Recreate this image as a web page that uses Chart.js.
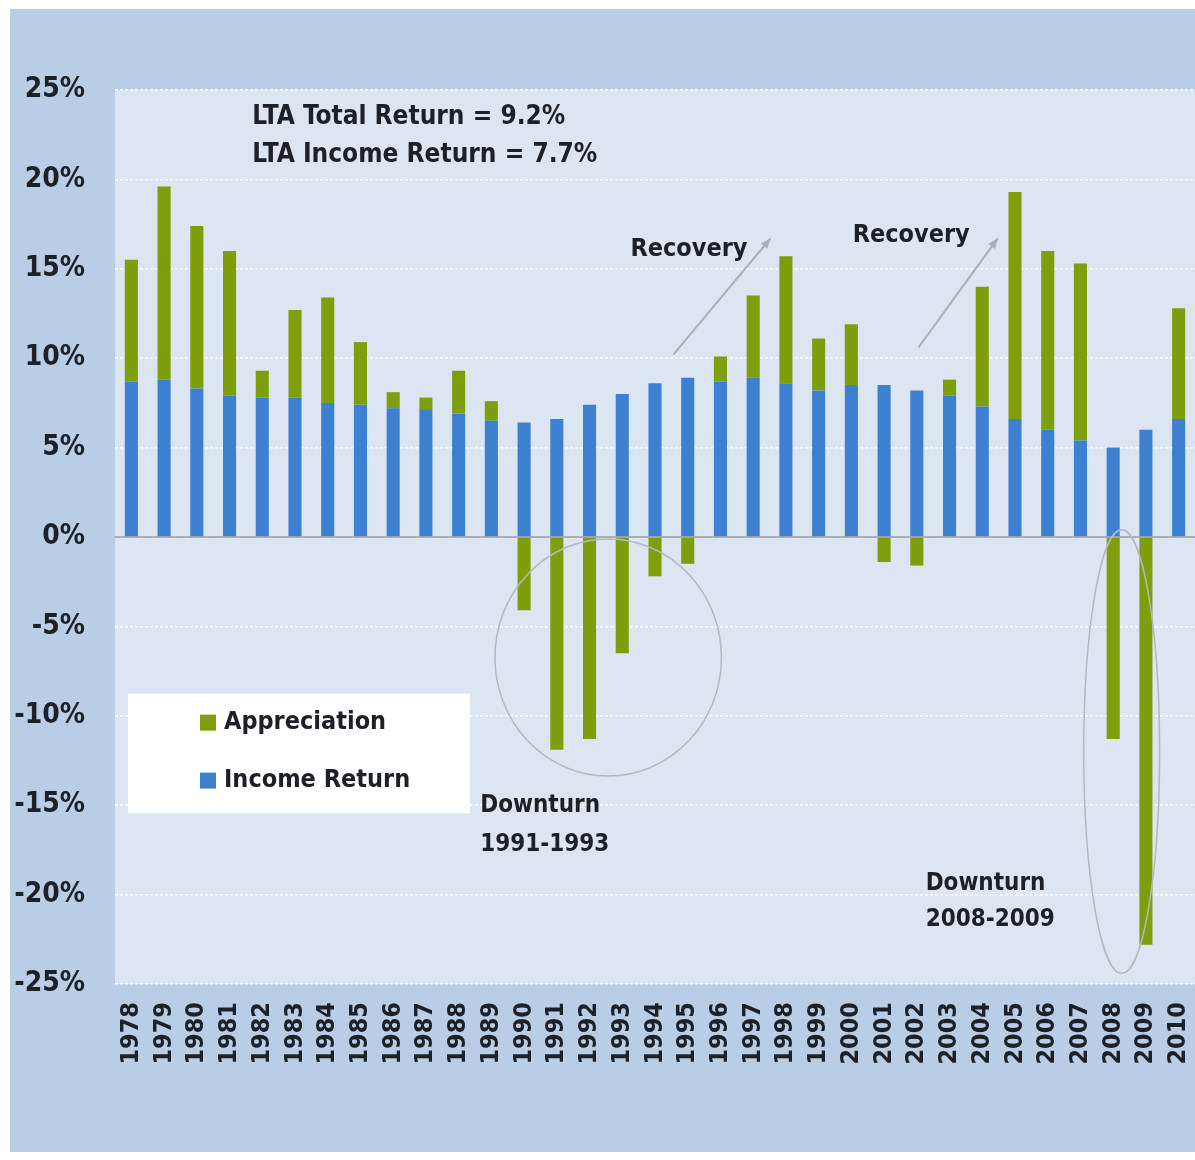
<!DOCTYPE html>
<html>
<head>
<meta charset="utf-8">
<script src="https://cdn.jsdelivr.net/npm/chart.js@4.4.0/dist/chart.umd.min.js"></script>
<style>
  html, body { margin: 0; padding: 0; background: #fff; }
  #wrap { width: 1195px; height: 1160px; position: relative; }
</style>
</head>
<body>
<div id="wrap"><canvas id="returnsChart" width="1195" height="1160"></canvas></div>
<script>
// years on the x axis
const years = ['1978', '1979', '1980', '1981', '1982', '1983', '1984', '1985', '1986', '1987', '1988',
  '1989', '1990', '1991', '1992', '1993', '1994', '1995', '1996', '1997', '1998', '1999', '2000',
  '2001', '2002', '2003', '2004', '2005', '2006', '2007', '2008', '2009', '2010'];

// income return (%), blue part
const incomeReturn = [8.7, 8.8, 8.3, 7.9, 7.8, 7.8, 7.5, 7.4, 7.2, 7.1, 6.9,
  6.5, 6.4, 6.6, 7.4, 8.0, 8.6, 8.9, 8.7, 8.9, 8.6, 8.2, 8.5,
  8.5, 8.2, 7.9, 7.3, 6.6, 6.0, 5.4, 5.0, 6.0, 6.6];

// appreciation (%), green part
const appreciation = [6.8, 10.8, 9.1, 8.1, 1.5, 4.9, 5.9, 3.5, 0.9, 0.7, 2.4,
  1.1, -4.1, -11.9, -11.3, -6.5, -2.2, -1.5, 1.4, 4.6, 7.1, 2.9, 3.4,
  -1.4, -1.6, 0.9, 6.7, 12.7, 10.0, 9.9, -11.3, -22.8, 6.2];

// y axis ticks
const yTicks = [25, 20, 15, 10, 5, 0, -5, -10, -15, -20, -25];

const GREEN = '#7e9e0c';
const BLUE = '#3e80d0';
const FONT = '"DejaVu Sans Condensed", "DejaVu Sans", sans-serif';
const TEXT = '#1d2027';
const LINE_GREY = '#a9aeb7';

// background: white edge, blue frame, lighter plot area
const backgroundPlugin = {
  id: 'backgrounds',
  beforeDraw(chart) {
    const { ctx, chartArea: a } = chart;
    ctx.save();
    ctx.fillStyle = '#ffffff';
    ctx.fillRect(0, 0, chart.width, chart.height);
    ctx.fillStyle = '#bacde6';
    ctx.fillRect(10, 9, chart.width - 10, chart.height - 17);
    ctx.fillStyle = '#dce6f2';
    ctx.fillRect(a.left, a.top, a.right - a.left, a.bottom - a.top);
    ctx.restore();
  },
  beforeDatasetsDraw(chart) {
    // solid zero line
    const { ctx, chartArea: a } = chart;
    const y0 = chart.scales.y.getPixelForValue(0);
    ctx.save();
    ctx.strokeStyle = LINE_GREY;
    ctx.lineWidth = 2;
    ctx.beginPath();
    ctx.moveTo(a.left, y0);
    ctx.lineTo(a.right, y0);
    ctx.stroke();
    ctx.restore();
  }
};

// text, arrows, circles and the white legend box
const annotationPlugin = {
  id: 'notes',
  afterDatasetsDraw(chart) {
    const { ctx } = chart;
    const xs = chart.scales.x, ys = chart.scales.y;
    const px = i => xs.getPixelForValue(i);
    const py = v => ys.getPixelForValue(v);

    ctx.save();
    ctx.fillStyle = TEXT;
    ctx.textAlign = 'left';
    ctx.textBaseline = 'middle';
    ctx.font = 'bold 26px ' + FONT;
    ctx.fillText('LTA Total Return = 9.2%', px(3.69), py(23.5));
    ctx.fillText('LTA Income Return = 7.7%', px(3.69), py(21.35));
    ctx.font = 'bold 25px ' + FONT;
    ctx.fillText('Recovery', px(15.25), py(16.1));
    ctx.fillText('Recovery', px(22.04), py(16.85));
    ctx.font = 'bold 24px ' + FONT;
    ctx.fillText('Downturn', px(10.66), py(-15.05));
    ctx.fillText('1991-1993', px(10.66), py(-17.2));
    ctx.fillText('Downturn', px(24.27), py(-19.4));
    ctx.fillText('2008-2009', px(24.27), py(-21.4));

    // arrows
    function arrow(x1, y1, x2, y2) {
      const ang = Math.atan2(y2 - y1, x2 - x1);
      ctx.strokeStyle = LINE_GREY;
      ctx.fillStyle = LINE_GREY;
      ctx.lineWidth = 2;
      ctx.beginPath();
      ctx.moveTo(x1, y1);
      ctx.lineTo(x2, y2);
      ctx.stroke();
      ctx.beginPath();
      ctx.moveTo(x2, y2);
      ctx.lineTo(x2 - 11 * Math.cos(ang - 0.4), y2 - 11 * Math.sin(ang - 0.4));
      ctx.lineTo(x2 - 11 * Math.cos(ang + 0.4), y2 - 11 * Math.sin(ang + 0.4));
      ctx.closePath();
      ctx.fill();
    }
    arrow(px(16.56), py(10.2), px(19.53), py(16.7));
    arrow(px(24.05), py(10.6), px(26.47), py(16.7));

    // circles around the downturns
    ctx.strokeStyle = '#b4b8bf';
    ctx.lineWidth = 1.5;
    ctx.beginPath();
    const c1x = px(14.57), c1y = py(-6.74);
    ctx.ellipse(c1x, c1y, px(14.57 + 3.46) - c1x, py(-6.74 - 6.63) - c1y, 0, 0, Math.PI * 2);
    ctx.stroke();
    ctx.beginPath();
    const c2x = px(30.26), c2y = py(-12.0);
    ctx.ellipse(c2x, c2y, px(30.26 + 1.16) - c2x, py(-12.0 - 12.4) - c2y, 0, 0, Math.PI * 2);
    ctx.stroke();

    // legend box
    const a = chart.chartArea;
    const lx = a.left + 13, ly = py(-8.76), lw = 342, lh = py(-15.45) - ly;
    ctx.fillStyle = '#ffffff';
    ctx.fillRect(lx, ly, lw, lh);
    const items = [
      { label: chart.data.datasets[1].label, color: chart.data.datasets[1].backgroundColor },
      { label: chart.data.datasets[0].label, color: chart.data.datasets[0].backgroundColor }
    ];
    ctx.font = 'bold 25px ' + FONT;
    items.forEach((it, k) => {
      const cy = ly + 29 + k * 58;
      ctx.fillStyle = it.color;
      ctx.fillRect(lx + 72, cy - 8, 16, 16);
      ctx.fillStyle = TEXT;
      ctx.fillText(it.label, lx + 96, cy);
    });
    ctx.restore();
  }
};

new Chart(document.getElementById('returnsChart'), {
  type: 'bar',
  data: {
    labels: years,
    datasets: [
      {
        label: 'Income Return',
        data: incomeReturn,
        backgroundColor: BLUE,
        barPercentage: 0.4,
        categoryPercentage: 1.0
      },
      {
        label: 'Appreciation',
        data: appreciation,
        backgroundColor: GREEN,
        barPercentage: 0.4,
        categoryPercentage: 1.0
      }
    ]
  },
  options: {
    responsive: false,
    animation: false,
    layout: { padding: { top: 90, left: 0, right: 0, bottom: 0 } },
    scales: {
      x: {
        stacked: true,
        grid: { display: false, drawTicks: false },
        border: { display: false },
        ticks: {
          color: TEXT,
          font: { family: FONT, size: 25, weight: 'bold' },
          minRotation: 90,
          maxRotation: 90,
          autoSkip: false,
          padding: 18
        },
        afterFit(scale) {
          scale.height = 176;
          scale.paddingLeft = 0;
          scale.paddingRight = 0;
        }
      },
      y: {
        stacked: true,
        min: -25,
        max: 25,
        afterBuildTicks(scale) { scale.ticks = yTicks.map(v => ({ value: v })); },
        grid: {
          color: ctx => (ctx.tick && ctx.tick.value === 0 ? 'rgba(0,0,0,0)' : '#ffffff'),
          lineWidth: 1.5,
          drawTicks: false
        },
        border: { display: false, dash: [3, 2] },
        ticks: {
          color: TEXT,
          font: { family: FONT, size: 28, weight: 'bold' },
          padding: 30,
          callback: v => v + '%'
        },
        afterFit(scale) { scale.width = 115; }
      }
    },
    plugins: {
      legend: { display: false },
      tooltip: { enabled: false }
    }
  },
  plugins: [backgroundPlugin, annotationPlugin]
});
</script>
</body>
</html>
